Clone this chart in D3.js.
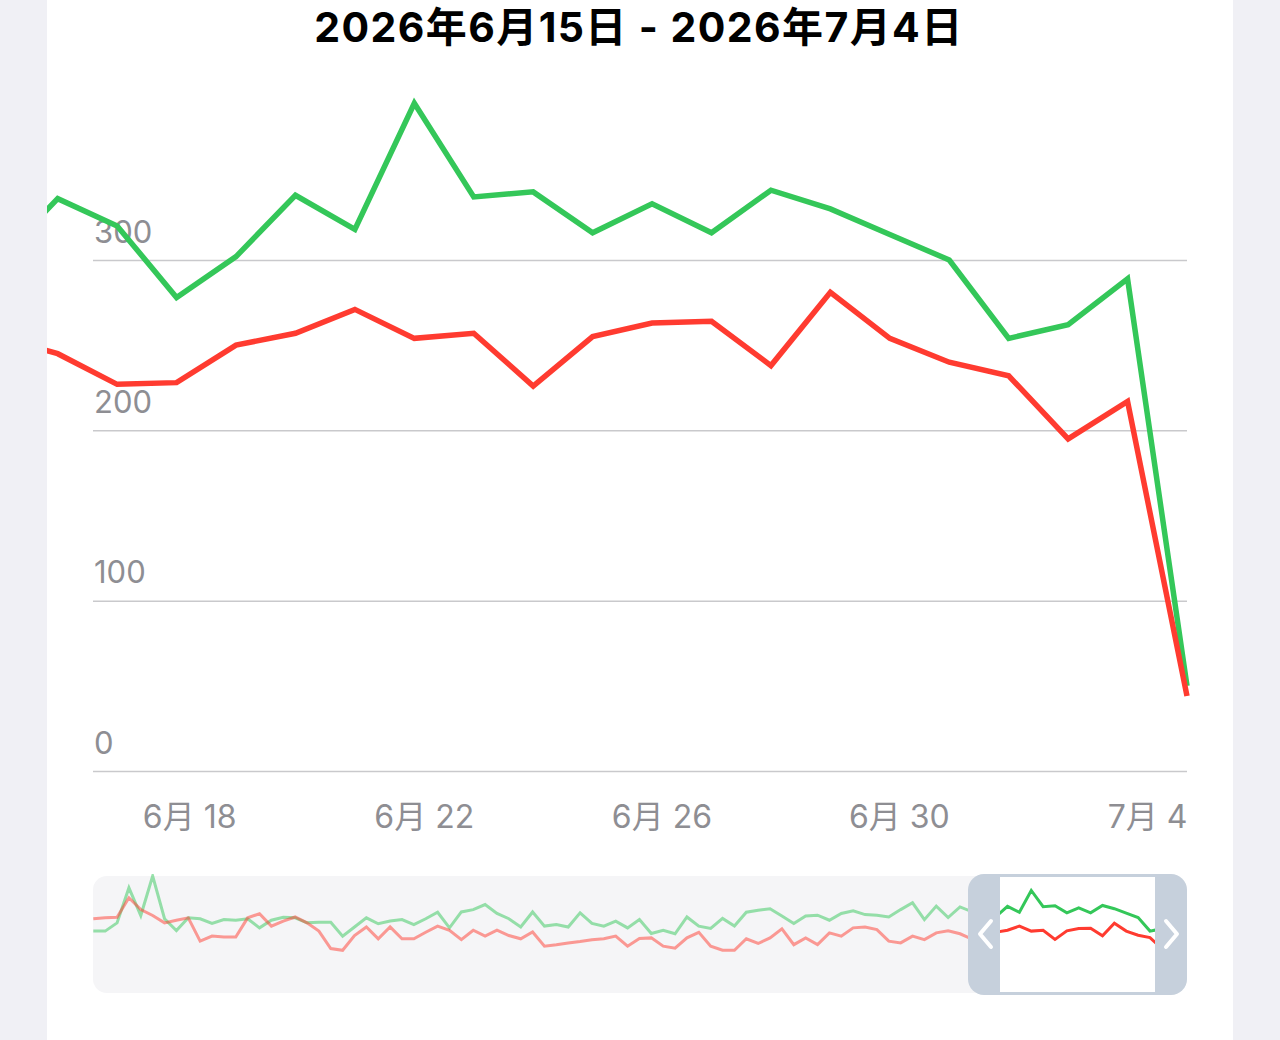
<!DOCTYPE html>
<html>
<head>
<meta charset="utf-8">
<script src="https://cdn.jsdelivr.net/npm/d3@7"></script>
<style>
  html, body { margin: 0; padding: 0; background: #f0f0f5; }
  svg { display: block; }
</style>
</head>
<body>
<svg id="chart"></svg>
<script>
const width = 1280;
const height = 1040;

// data: daily values from 2026-04-03 to 2026-07-04
const startDate = new Date(2026, 3, 3);
const greenValues = [
  254, 254, 282, 401, 307, 441, 296, 256, 299, 296, 280, 293, 291, 296, 265, 291, 301, 299, 282, 284,
  284, 237, 268, 299, 279, 288, 293, 276, 296, 318, 265, 319, 327, 344, 314, 296, 268, 319, 271,
  276, 268, 316, 280, 271, 288, 265, 293, 246, 257, 245, 302, 271, 263, 297, 271, 318, 325, 330,
  305, 280, 305, 308, 291, 314, 323, 310, 308, 302, 327, 350, 293, 339,
  300, 336, 320, 278, 302, 338, 318, 392, 337, 340, 316, 333, 316, 341, 330, 315, 300, 254, 262, 289, 50
];
const redValues = [
  296, 299, 301, 367, 327, 307, 282, 291, 299, 220, 237, 234, 234, 299, 313, 271, 288, 302, 282, 254,
  195, 189, 239, 268, 228, 268, 228, 228, 250, 271, 257, 225, 257, 237, 257, 239, 228, 251, 203,
  208, 214, 219, 225, 228, 237, 203, 229, 231, 203, 196, 231, 250, 203, 189, 189, 228, 212, 231,
  262, 208, 231, 208, 248, 237, 265, 268, 259, 220, 214, 237, 225, 248,
  255, 245, 227, 228, 250, 257, 271, 254, 257, 226, 255, 263, 264, 238, 281, 254, 240, 232, 195, 217, 44
];
const yTicks = [0, 100, 200, 300];
const xTickDates = [new Date(2026, 5, 18), new Date(2026, 5, 22), new Date(2026, 5, 26),
  new Date(2026, 5, 30), new Date(2026, 6, 4)];
const titleText = '2026年6月15日 - 2026年7月4日';

const dayOf = i => d3.timeDay.offset(startDate, i);
const green = greenValues.map((v, i) => ({ date: dayOf(i), value: v }));
const red = redValues.map((v, i) => ({ date: dayOf(i), value: v }));
const lastDate = green[green.length - 1].date;

const svg = d3.select('#chart').attr('width', width).attr('height', height);
const font = 'Inter, "Noto Sans CJK SC", sans-serif';

// card
svg.append('rect')
  .attr('x', 47).attr('y', -40)
  .attr('width', 1186).attr('height', 1140)
  .attr('rx', 42)
  .attr('fill', '#ffffff');

// title
svg.append('text')
  .attr('x', 639).attr('y', 42)
  .attr('text-anchor', 'middle')
  .style('font-family', font)
  .style('font-weight', 700)
  .style('font-size', '41px')
  .style('letter-spacing', '1.4px')
  .attr('fill', '#000')
  .text(titleText);

// main scales ------------------------
const plotLeft = 93;
const plotRight = 1187;
const x = d3.scaleTime()
  .domain([new Date(2026, 5, 15), lastDate])
  .range([57.7, plotRight]);
const y = d3.scaleLinear()
  .domain([0, 300])
  .range([771, 260]);

const yAxis = svg.append('g')
  .attr('transform', `translate(${plotLeft}, 0)`)
  .call(d3.axisRight(y).tickValues(yTicks).tickSize(plotRight - plotLeft));
yAxis.select('.domain').remove();
yAxis.selectAll('line').attr('stroke', '#c9c9cc').attr('stroke-width', 1.5);
yAxis.selectAll('text')
  .attr('x', 1).attr('dy', -18)
  .attr('fill', '#8e8e93')
  .style('font-family', font)
  .style('font-size', '31px');

const xAxis = svg.append('g')
  .attr('transform', 'translate(0, 771)')
  .call(d3.axisBottom(x).tickValues(xTickDates).tickSize(0)
    .tickFormat(d => `${d.getMonth() + 1}月 ${d.getDate()}`));
xAxis.select('.domain').remove();
xAxis.selectAll('text')
  .attr('y', 57).attr('dy', 0)
  .attr('text-anchor', 'end')
  .attr('fill', '#8e8e93')
  .style('font-family', font)
  .style('font-size', '32px');

// main lines
svg.append('clipPath').attr('id', 'main-clip')
  .append('rect').attr('x', 47).attr('y', 60).attr('width', plotRight - 47 + 4).attr('height', 740);

const line = d3.line().x(d => x(d.date)).y(d => y(d.value));
const mainLines = svg.append('g').attr('clip-path', 'url(#main-clip)');
[[green, '#34c759'], [red, '#ff3b30']].forEach(([data, color]) => {
  mainLines.append('path')
    .datum(data)
    .attr('d', line)
    .attr('fill', 'none')
    .attr('stroke', color)
    .attr('stroke-width', 5.5)
    .attr('stroke-linejoin', 'miter');
});

// navigator --------------------------
const nx = d3.scaleTime().domain([startDate, lastDate]).range([93.3, 1185.6]);
const ny = d3.scaleLinear()
  .domain(d3.extent(greenValues.concat(redValues)))
  .range([993, 876]);
const miniLine = d3.line().x(d => nx(d.date)).y(d => ny(d.value));

svg.append('rect')
  .attr('x', 93).attr('y', 876)
  .attr('width', 1094).attr('height', 117)
  .attr('rx', 14)
  .attr('fill', '#f5f5f7');

svg.append('clipPath').attr('id', 'nav-clip')
  .append('rect').attr('x', 93).attr('y', 874).attr('width', 1094).attr('height', 119).attr('rx', 16);

const nav = svg.append('g').attr('clip-path', 'url(#nav-clip)');
[[green, '#34c759'], [red, '#ff3b30']].forEach(([data, color]) => {
  nav.append('path')
    .datum(data)
    .attr('d', miniLine)
    .attr('fill', 'none')
    .attr('stroke', color)
    .attr('stroke-opacity', 0.5)
    .attr('stroke-width', 3);
});

// selection window
svg.append('rect')
  .attr('x', 968).attr('y', 874)
  .attr('width', 219).attr('height', 121)
  .attr('rx', 16)
  .attr('fill', '#c6d0dc');
svg.append('rect')
  .attr('x', 1000).attr('y', 877)
  .attr('width', 155).attr('height', 115)
  .attr('fill', '#ffffff');

svg.append('clipPath').attr('id', 'win-clip')
  .append('rect').attr('x', 1000).attr('y', 877).attr('width', 155).attr('height', 115);
const win = svg.append('g').attr('clip-path', 'url(#win-clip)');
[[green, '#34c759'], [red, '#ff3b30']].forEach(([data, color]) => {
  win.append('path')
    .datum(data)
    .attr('d', miniLine)
    .attr('fill', 'none')
    .attr('stroke', color)
    .attr('stroke-width', 3);
});

// chevrons
const chevron = [[991, 921, 980, 934, 991, 947], [1166, 921, 1177, 934, 1166, 947]];
chevron.forEach(([x1, y1, x2, y2, x3, y3]) => {
  svg.append('path')
    .attr('d', `M${x1},${y1}L${x2},${y2}L${x3},${y3}`)
    .attr('fill', 'none')
    .attr('stroke', '#ffffff')
    .attr('stroke-width', 4)
    .attr('stroke-linecap', 'round')
    .attr('stroke-linejoin', 'round');
});
</script>
</body>
</html>
